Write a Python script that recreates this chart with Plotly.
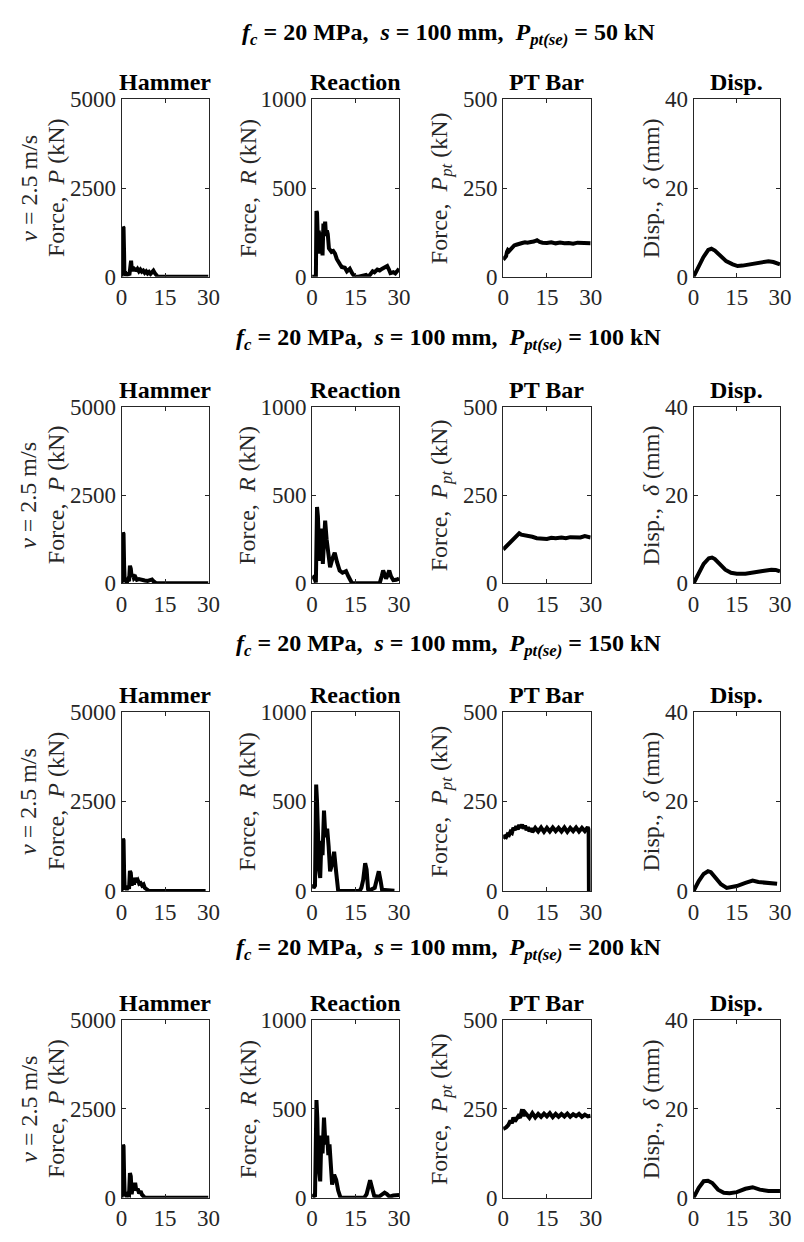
import plotly.graph_objects as go

# ---------------- data (time in ms) ----------------
# Row 1: P_pt(se) = 50 kN
t_ham_50 = [0, 0.3, 0.5, 0.7, 0.9, 1.0, 1.2, 1.5, 1.8, 2.1, 2.4, 2.7, 3.0, 3.3, 3.6, 3.9, 4.2, 4.6, 5.0, 5.5, 6.0, 6.5, 7.0, 7.5, 8.0, 8.5, 9.0, 9.5, 10.0, 10.5, 11.0, 11.5, 12.0, 12.5, 15, 20, 25, 30]
p_ham_50 = [0, 900, 1400, 1380, 600, 50, 150, 20, 120, 30, 100, 40, 200, 450, 150, 280, 180, 250, 160, 220, 150, 200, 140, 170, 110, 150, 90, 130, 80, 120, 170, 100, 20, 0, 0, 0, 0, 0]
t_rea_50 = [0, 1.3, 1.5, 1.7, 2.0, 2.3, 2.6, 3.0, 3.3, 3.6, 3.9, 4.2, 4.5, 4.8, 5.1, 5.4, 5.8, 6.2, 6.7, 7.3, 7.9, 8.5, 9.0, 9.6, 10.2, 11.3, 12.0, 13.0, 13.8, 14.7, 16, 18.6, 19.2, 19.7, 20.9, 21.5, 22.5, 23.3, 24.2, 25.0, 25.9, 26.5, 27.0, 28.0, 28.7, 29.3, 30]
r_rea_50 = [0, 0, 370, 360, 200, 260, 130, 250, 220, 120, 300, 260, 310, 230, 260, 240, 160, 150, 140, 145, 130, 100, 80, 70, 55, 50, 30, 45, 20, 0, 0, 10, 0, 5, 30, 25, 40, 35, 45, 50, 60, 40, 20, 25, 18, 30, 45]
t_pt_50 = [0, 0.5, 1.0, 1.3, 1.6, 2.0, 2.7, 3.2, 3.8, 4.5, 5.5, 6.5, 7.5, 8.3, 9.5, 10.5, 11.6, 12.5, 13.5, 15, 16.5, 18, 19.5, 21, 22.5, 24, 25.5, 27, 28.5, 30]
p_pt_50 = [48, 52, 58, 70, 75, 72, 80, 85, 88, 90, 94, 95, 97, 96, 98, 99, 103, 98, 96, 95, 97, 94, 96, 94, 95, 93, 96, 95, 96, 94]
t_dsp_50 = [0, 1.7, 3.4, 5.1, 6.2, 7.4, 9.1, 11.3, 13.6, 15.3, 17, 19.3, 21.5, 23.8, 26, 27.7, 30]
d_dsp_50 = [0, 2.2, 4.4, 6.05, 6.3, 5.9, 4.8, 3.5, 2.8, 2.4, 2.5, 2.7, 3.1, 3.3, 3.5, 3.3, 2.8]

# Row 2: P_pt(se) = 100 kN
t_ham_100 = [0, 0.3, 0.5, 0.7, 0.9, 1.1, 1.4, 1.8, 2.2, 2.6, 2.9, 3.2, 3.5, 3.9, 4.3, 4.8, 5.3, 6.0, 7.0, 8.0, 9.0, 10.0, 10.5, 11.0, 11.5, 12.0, 15, 20, 25, 30]
p_ham_100 = [0, 1000, 1440, 1400, 500, 40, 120, 20, 100, 60, 500, 420, 180, 260, 140, 180, 100, 120, 90, 80, 70, 90, 110, 60, 20, 0, 0, 0, 0, 0]
t_rea_100 = [0, 0.5, 1.0, 1.3, 1.7, 2.0, 2.4, 2.8, 3.1, 3.4, 3.7, 4.0, 4.5, 5.0, 5.5, 6.2, 7.0, 7.8, 8.6, 9.5, 10.5, 11.7, 12.5, 13.8, 16, 20, 23.3, 24.0, 24.5, 25.0, 25.5, 26.0, 26.6, 27.2, 28.0, 29.0, 30]
r_rea_100 = [40, 35, 20, 5, 433, 380, 200, 128, 280, 311, 110, 250, 356, 250, 165, 91, 140, 174, 120, 73, 60, 69, 40, 0, 0, 0, 0, 40, 73, 50, 27, 45, 73, 40, 18, 20, 27]
t_pt_100 = [0, 1, 2, 3.5, 4.5, 5.5, 6.2, 7, 8.5, 10, 11.5, 13, 15, 16.5, 18, 20, 21.5, 23, 25, 26.5, 28, 29, 30]
p_pt_100 = [96, 105, 114, 128, 133, 142, 138, 137, 134, 132, 128, 127, 126, 129, 128, 130, 128, 131, 132, 130, 134, 133, 130]
t_dsp_100 = [0, 1.8, 3.5, 5.3, 6.4, 7.4, 9, 11, 13, 15, 18, 21, 24, 27, 28.5, 30]
d_dsp_100 = [0, 2.2, 4.4, 5.7, 5.85, 5.5, 4.4, 3.1, 2.4, 2.2, 2.2, 2.4, 2.8, 3.1, 3.05, 2.7]

# Row 3: P_pt(se) = 150 kN
t_ham_150 = [0, 0.3, 0.5, 0.7, 0.9, 1.1, 1.4, 1.8, 2.2, 2.6, 2.9, 3.2, 3.5, 3.9, 4.3, 4.7, 5.1, 5.6, 6.1, 6.6, 7.1, 7.6, 8.0, 8.5, 9.0, 9.5, 15, 20, 25, 29]
p_ham_150 = [0, 1000, 1460, 1420, 500, 40, 150, 30, 120, 60, 560, 500, 150, 300, 180, 366, 250, 300, 200, 220, 150, 180, 91, 60, 20, 0, 0, 0, 0, 0]
t_rea_150 = [0, 0.5, 1.0, 1.4, 1.7, 2.0, 2.4, 2.8, 3.2, 3.6, 4.1, 4.6, 5.2, 5.7, 6.2, 6.9, 7.6, 8.2, 9.0, 12, 16.4, 17.0, 17.6, 18.3, 18.8, 19.3, 20, 21.6, 22.3, 23.0, 23.6, 24.1, 25, 27, 28.4]
r_rea_150 = [37, 18, 30, 594, 500, 250, 120, 73, 280, 200, 448, 300, 347, 250, 110, 150, 219, 120, 0, 0, 0, 18, 60, 155, 120, 10, 5, 18, 60, 110, 60, 9, 5, 3, 2]
t_pt_150 = [0, 0.5, 1, 1.5, 2, 2.5, 3, 3.5, 4, 4.5, 5, 5.5, 6, 6.5, 7, 7.5, 8, 8.5, 9, 9.5, 10, 11, 12, 13, 14, 15, 16, 17, 18, 19, 20, 21, 22, 23, 24, 25, 26, 27, 28, 29, 29.3, 29.4]
p_pt_150 = [146, 152, 150, 158, 156, 165, 162, 176, 170, 181, 172, 184, 176, 185, 174, 182, 170, 178, 166, 175, 164, 176, 166, 177, 165, 176, 166, 177, 167, 176, 166, 177, 165, 176, 167, 177, 166, 176, 167, 178, 172, 0]
t_dsp_150 = [0, 1.8, 3.5, 5, 6, 7.5, 9.5, 11.5, 13, 15, 18, 20.5, 22.5, 25, 27, 29]
d_dsp_150 = [0, 2.2, 3.8, 4.4, 4.2, 2.9, 1.5, 0.7, 0.8, 1.1, 1.8, 2.3, 2.0, 1.8, 1.6, 1.6]

# Row 4: P_pt(se) = 200 kN
t_ham_200 = [0, 0.1, 0.3, 0.5, 0.7, 0.9, 1.1, 1.4, 1.8, 2.2, 2.6, 2.9, 3.2, 3.5, 3.9, 4.3, 4.7, 5.1, 5.6, 6.1, 6.6, 7.0, 7.5, 8.0, 10, 15, 20, 25, 30]
p_ham_200 = [0, 300, 1200, 1490, 1450, 600, 40, 150, 20, 100, 80, 692, 600, 100, 300, 200, 415, 200, 250, 120, 185, 92, 40, 0, 0, 0, 0, 0, 0]
t_rea_200 = [0, 0.5, 1.0, 1.5, 1.8, 2.1, 2.5, 2.8, 3.2, 3.6, 4.1, 4.6, 5.2, 5.6, 6.0, 6.5, 6.9, 7.6, 8.3, 9.0, 9.8, 14, 18, 18.8, 19.5, 20.0, 20.6, 21.4, 23, 24, 25, 25.8, 26.7, 28, 30]
r_rea_200 = [18, 10, 5, 550, 450, 200, 120, 92, 350, 250, 452, 300, 350, 240, 300, 150, 74, 129, 100, 40, 0, 0, 0, 20, 70, 98, 60, 10, 5, 18, 28, 20, 5, 12, 15]
t_pt_200 = [0, 1, 1.8, 2.5, 3.0, 3.5, 4.0, 4.5, 5.2, 5.8, 6.5, 7.0, 7.5, 8.0, 9, 10, 11, 12, 13, 14, 15, 16, 17, 18, 19, 20, 21, 22, 23, 24, 25, 26, 27, 28, 29, 30]
p_pt_200 = [194, 198, 205, 217, 210, 226, 215, 221, 230, 225, 249, 230, 240, 235, 225, 238, 226, 236, 228, 237, 229, 238, 227, 236, 228, 236, 229, 237, 228, 235, 230, 236, 228, 234, 229, 231]
t_dsp_200 = [0, 1.8, 3.5, 5, 6.5, 8.5, 10.5, 12.5, 15, 18, 20.5, 23, 26, 30]
d_dsp_200 = [0, 2.2, 3.7, 3.8, 3.3, 1.8, 1.1, 1.0, 1.25, 2.0, 2.35, 1.8, 1.5, 1.5]

prestress_labels = ["50", "100", "150", "200"]
col_titles = ["Hammer", "Reaction", "PT Bar", "Disp."]
y_ranges = [[0, 5000], [0, 1000], [0, 500], [0, 40]]
y_ticks = [[0, 2500, 5000], [0, 500, 1000], [0, 250, 500], [0, 20, 40]]
x_ticks = [0, 15, 30]

rows = [
    [(t_ham_50, p_ham_50), (t_rea_50, r_rea_50), (t_pt_50, p_pt_50), (t_dsp_50, d_dsp_50)],
    [(t_ham_100, p_ham_100), (t_rea_100, r_rea_100), (t_pt_100, p_pt_100), (t_dsp_100, d_dsp_100)],
    [(t_ham_150, p_ham_150), (t_rea_150, r_rea_150), (t_pt_150, p_pt_150), (t_dsp_150, d_dsp_150)],
    [(t_ham_200, p_ham_200), (t_rea_200, r_rea_200), (t_pt_200, p_pt_200), (t_dsp_200, d_dsp_200)],
]

# ---------------- layout geometry (page pixels) ----------------
# the page body has an 8 px margin, so the figure is shifted and sized to fit the window
OFF = 8
W, H = 804 - OFF, 1242 - OFF
col_px = [(118, 207), (313, 402), (508.5, 598), (703.3, 791.7)]
row_px = [(89, 270), (403, 583), (714, 897), (1029, 1210)]
heading_px = [22, 334, 646, 956]
ylab_px = [51, 247, 445, 660]
vlab_px = 23


def fx(px):
    return (px - OFF) / W


def fy(px):
    return 1 - (px - OFF) / H


FONT = "Liberation Serif"
GRAY = "#262626"

fig = go.Figure()
layout = dict(
    width=W, height=H, margin=dict(l=0, r=0, t=0, b=0),
    paper_bgcolor="white", plot_bgcolor="white", showlegend=False,
    font=dict(family=FONT, size=23, color=GRAY),
)
annotations = []

for r in range(4):
    y0p, y1p = row_px[r]
    yd = [fy(y1p), fy(y0p)]
    for c in range(4):
        k = r * 4 + c + 1
        sfx = "" if k == 1 else str(k)
        x0p, x1p = col_px[c]
        xd = [fx(x0p), fx(x1p)]
        tx, ty = rows[r][c]
        fig.add_trace(go.Scatter(x=tx, y=ty, mode="lines",
                                 line=dict(color="black", width=4),
                                 xaxis="x" + sfx, yaxis="y" + sfx,
                                 hoverinfo="skip"))
        common = dict(showline=True, mirror="ticks", linecolor=GRAY, linewidth=1,
                      ticks="inside", ticklen=4, tickcolor=GRAY, showgrid=False,
                      zeroline=False, tickfont=dict(family=FONT, size=23, color=GRAY))
        layout["xaxis" + sfx] = dict(domain=xd, anchor="y" + sfx, range=[0, 30],
                                     tickvals=x_ticks, **common)
        layout["yaxis" + sfx] = dict(domain=yd, anchor="x" + sfx, range=y_ranges[c],
                                     tickvals=y_ticks[c], **common)
        # subplot title
        annotations.append(dict(text="<b>" + col_titles[c] + "</b>", xref="paper", yref="paper",
                                x=fx((x0p + x1p) / 2), y=fy(y0p), xanchor="center",
                                yanchor="bottom", yshift=2, showarrow=False,
                                font=dict(family=FONT, size=24, color="black")))
    # row heading
    htxt = ("<b><i>f</i><sub><i>c</i></sub> = 20 MPa,&nbsp; <i>s</i> = 100 mm,&nbsp; "
            "<i>P</i><sub><i>pt(se)</i></sub> = " + prestress_labels[r] + " kN</b>")
    annotations.append(dict(text=htxt, xref="paper", yref="paper", x=fx(453),
                            y=fy(heading_px[r]), xanchor="center", yanchor="middle",
                            showarrow=False, font=dict(family=FONT, size=24, color="black")))
    # y labels
    yc = fy((y0p + y1p) / 2)
    ylabels = ["Force,&nbsp; <i>P</i> (kN)", "Force,&nbsp; <i>R</i> (kN)",
               "Force,&nbsp; <i>P</i><sub><i>pt</i></sub> (kN)", "Disp.,&nbsp; <i>δ</i> (mm)"]
    for c in range(4):
        annotations.append(dict(text=ylabels[c], xref="paper", yref="paper",
                                x=fx(ylab_px[c]), y=yc, xanchor="center", yanchor="middle",
                                textangle=-90, showarrow=False,
                                font=dict(family=FONT, size=24, color=GRAY)))
    annotations.append(dict(text="<i>v</i> = 2.5 m/s", xref="paper", yref="paper",
                            x=fx(vlab_px), y=yc, xanchor="center", yanchor="middle",
                            textangle=-90, showarrow=False,
                            font=dict(family=FONT, size=24, color=GRAY)))

layout["annotations"] = annotations
fig.update_layout(**layout)
fig.write_html("out.html")
